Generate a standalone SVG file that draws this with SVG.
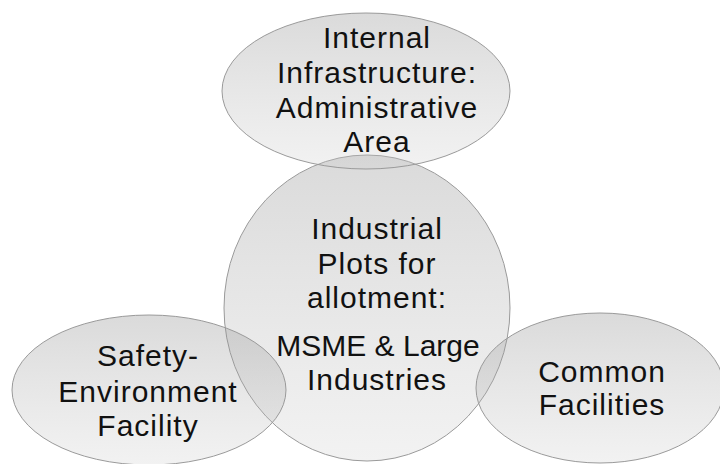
<svg xmlns="http://www.w3.org/2000/svg" width="720" height="464" viewBox="0 0 720 464">
  <defs>
    <linearGradient id="shade" x1="0" y1="0" x2="0" y2="1">
      <stop offset="0" stop-color="rgb(140,140,140)" stop-opacity="0.32"/>
      <stop offset="1" stop-color="rgb(205,205,205)" stop-opacity="0.26"/>
    </linearGradient>
  </defs>
  <style>
    .bubble { fill: url(#shade); stroke: #9a9a9a; stroke-width: 1; }
    .label { font-family: "Liberation Sans", "Open Sans", sans-serif; font-size: 30px; letter-spacing: 1px; fill: #111; text-anchor: middle; }
    .tight { letter-spacing: 0; }
  </style>
  <rect width="720" height="464" fill="#ffffff"/>

  <g id="connectors"></g>

  <g id="node-plots">
    <ellipse class="bubble" cx="367" cy="308" rx="143" ry="153"/>
  </g>
  <g id="node-internal">
    <ellipse class="bubble" cx="366" cy="91" rx="144" ry="78"/>
  </g>
  <g id="node-safety">
    <ellipse class="bubble" cx="149" cy="390" rx="137" ry="75"/>
  </g>
  <g id="node-common">
    <ellipse class="bubble" cx="600" cy="388" rx="124" ry="75"/>
  </g>

  <g id="labels">
    <text class="label" x="377" y="48">Internal</text>
    <text class="label" x="377" y="83">Infrastructure:</text>
    <text class="label" x="377" y="118">Administrative</text>
    <text class="label" x="377" y="152">Area</text>

    <text class="label" x="377" y="239">Industrial</text>
    <text class="label" x="377" y="274">Plots for</text>
    <text class="label" x="377" y="308">allotment:</text>
    <text class="label tight" x="378" y="356">MSME &amp; Large</text>
    <text class="label" x="377" y="390">Industries</text>

    <text class="label" x="148" y="366">Safety-</text>
    <text class="label" x="148" y="402">Environment</text>
    <text class="label" x="148" y="436">Facility</text>

    <text class="label" x="602" y="382">Common</text>
    <text class="label" x="602" y="415">Facilities</text>
  </g>
</svg>
